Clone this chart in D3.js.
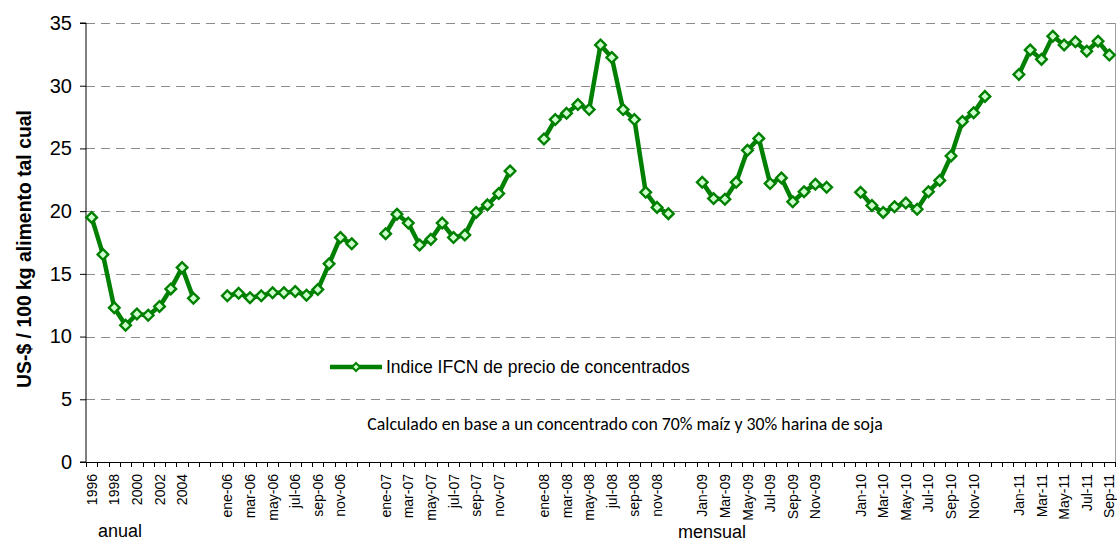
<!DOCTYPE html>
<html><head><meta charset="utf-8">
<script src="https://cdn.jsdelivr.net/npm/d3@7"></script>
<style>body{margin:0;background:#fff}svg{display:block}</style>
</head><body>
<svg id="c" width="1117" height="542"></svg>
<script>
// ---- data ----
const annualLabels = ["1996","1997","1998","1999","2000","2001","2002","2003","2004","2005"];
const annualValues = [19.5,16.55,12.3,10.9,11.8,11.7,12.4,13.8,15.5,13.05];
const months06 = ["ene-06","feb-06","mar-06","abr-06","may-06","jun-06","jul-06","ago-06","sep-06","oct-06","nov-06","dic-06"];
const values06 = [13.25,13.45,13.1,13.25,13.5,13.5,13.6,13.3,13.75,15.8,17.9,17.4];
const months07 = ["ene-07","feb-07","mar-07","abr-07","may-07","jun-07","jul-07","ago-07","sep-07","oct-07","nov-07","dic-07"];
const values07 = [18.2,19.75,19.05,17.3,17.75,19.05,17.9,18.1,19.9,20.5,21.4,23.2];
const months08 = ["ene-08","feb-08","mar-08","abr-08","may-08","jun-08","jul-08","ago-08","sep-08","oct-08","nov-08","dic-08"];
const values08 = [25.75,27.3,27.8,28.5,28.1,33.25,32.25,28.1,27.3,21.5,20.3,19.8];
const months09 = ["Jan-09","Feb-09","Mar-09","Apr-09","May-09","Jun-09","Jul-09","Aug-09","Sep-09","Oct-09","Nov-09","Dec-09"];
const values09 = [22.3,21.0,20.95,22.3,24.85,25.8,22.2,22.65,20.75,21.55,22.15,21.9];
const months10 = ["Jan-10","Feb-10","Mar-10","Apr-10","May-10","Jun-10","Jul-10","Aug-10","Sep-10","Oct-10","Nov-10","Dec-10"];
const values10 = [21.5,20.45,19.9,20.35,20.65,20.15,21.55,22.45,24.4,27.15,27.85,29.15];
const months11 = ["Jan-11","Feb-11","Mar-11","Apr-11","May-11","Jun-11","Jul-11","Aug-11","Sep-11"];
const values11 = [30.9,32.85,32.1,33.95,33.25,33.5,32.75,33.55,32.45];
const yTicks = [0,5,10,15,20,25,30,35];
const seriesName = "Indice IFCN de precio de concentrados";
const yTitle = "US-$ / 100 kg alimento tal cual";
const note = "Calculado en base a un concentrado con 70% maíz y 30% harina de soja";
const groupLabels = ["anual","mensual"];

// ---- build category table (two blank categories between blocks) ----
const blocks = [[annualLabels,annualValues],[months06,values06],[months07,values07],[months08,values08],[months09,values09],[months10,values10],[months11,values11]];
const data = [];
blocks.forEach((b,bi)=>{
  if(bi>0){ data.push({key:"gap"+bi+"a",label:"",v:null}); data.push({key:"gap"+bi+"b",label:"",v:null}); }
  b[0].forEach((l,i)=>data.push({key:l,label:l,v:b[1][i]}));
});

const FONT = "'Liberation Sans', Arial, sans-serif";
const svg = d3.select("#c");
const L=86, R=1115, T=23, B=462;
const x = d3.scaleBand().domain(data.map(d=>d.key)).range([L,R]).padding(0);
const y = d3.scaleLinear().domain([0,35]).range([B,T]);
const green="#008000";

function fit(sel, w){ // scale font-size so the text spans w pixels
  const fs = +sel.attr("font-size"); const cur = sel.node().getComputedTextLength();
  if(cur>0) sel.attr("font-size", fs*w/cur);
}

// gridlines
svg.append("g").selectAll("line").data(yTicks.filter(t=>t>0)).join("line")
  .attr("x1",L).attr("x2",R).attr("y1",d=>Math.round(y(d))+0.5).attr("y2",d=>Math.round(y(d))+0.5)
  .attr("stroke","#8c8c8c").attr("stroke-width",1).attr("stroke-dasharray","9,6");
// right border
svg.append("line").attr("x1",R+0.5).attr("x2",R+0.5).attr("y1",T).attr("y2",B).attr("stroke","#a0a0a0").attr("stroke-width",1);

// y axis
const ya = svg.append("g").attr("transform",`translate(${L},0)`)
  .call(d3.axisLeft(y).tickValues(yTicks).tickSize(6).tickPadding(8).tickFormat(d3.format("d")));
ya.select(".domain").attr("stroke","#000").attr("d",`M-6,${B}H0V${T}H-6`);
ya.selectAll(".tick line").attr("stroke","#000");
ya.selectAll("text").attr("font-family",FONT).attr("font-size",20).attr("fill","#000");

// x axis: ticks at category boundaries
const xa = svg.append("g");
xa.append("line").attr("x1",L).attr("x2",R).attr("y1",B+0.5).attr("y2",B+0.5).attr("stroke","#000");
const bounds = data.map(d=>x(d.key)).concat([R]);
xa.selectAll("line.tk").data(bounds).join("line").attr("class","tk")
  .attr("x1",d=>Math.round(d)+0.5).attr("x2",d=>Math.round(d)+0.5).attr("y1",B).attr("y2",B+5).attr("stroke","#000");
xa.selectAll("text").data(data.filter((d,i)=>i%2===0 && d.label)).join("text")
  .attr("transform",d=>`translate(${x(d.key)+x.bandwidth()/2+5},${B+12}) rotate(-90)`)
  .attr("text-anchor","end")
  .attr("font-family",FONT).attr("font-size",14).attr("fill","#000")
  .text(d=>d.label);

// group labels
svg.append("text").attr("x",98).attr("y",537).attr("font-family",FONT).attr("font-size",18).text(groupLabels[0]);
svg.append("text").attr("x",678).attr("y",538).attr("font-family",FONT).attr("font-size",18).text(groupLabels[1]);

// y title
const yt = svg.append("text").attr("transform","translate(31,249) rotate(-90)").attr("text-anchor","middle")
  .attr("font-family",FONT).attr("font-size",19).attr("font-weight","bold").text(yTitle);
fit(yt, 278);

// line
const line = d3.line().defined(d=>d.v!==null).x(d=>x(d.key)+x.bandwidth()/2).y(d=>y(d.v));
svg.append("path").datum(data).attr("d",line).attr("fill","none").attr("stroke",green).attr("stroke-width",4.5).attr("stroke-linejoin","round");

// markers
const dia = d3.symbol().type(d3.symbolDiamond2).size(72);
svg.append("g").selectAll("path").data(data.filter(d=>d.v!==null)).join("path")
  .attr("d",dia).attr("transform",d=>`translate(${x(d.key)+x.bandwidth()/2},${y(d.v)})`)
  .attr("fill","#ccffcc").attr("stroke",green).attr("stroke-width",2.4);

// legend
const lg = svg.append("g");
lg.append("line").attr("x1",330).attr("x2",382).attr("y1",367).attr("y2",367).attr("stroke",green).attr("stroke-width",4.5);
lg.append("path").attr("d",d3.symbol().type(d3.symbolDiamond2).size(40)).attr("transform","translate(356,367)").attr("fill","#ccffcc").attr("stroke",green).attr("stroke-width",2);
const lt = lg.append("text").attr("x",386).attr("y",373).attr("font-family",FONT).attr("font-size",16.5).text(seriesName);
fit(lt, 304);

// note
const nt = svg.append("text").attr("x",625).attr("y",430).attr("text-anchor","middle")
  .attr("font-family","Carlito, Lato, 'Open Sans', sans-serif").attr("font-size",14).text(note);
fit(nt, 516);
</script>
</body></html>
